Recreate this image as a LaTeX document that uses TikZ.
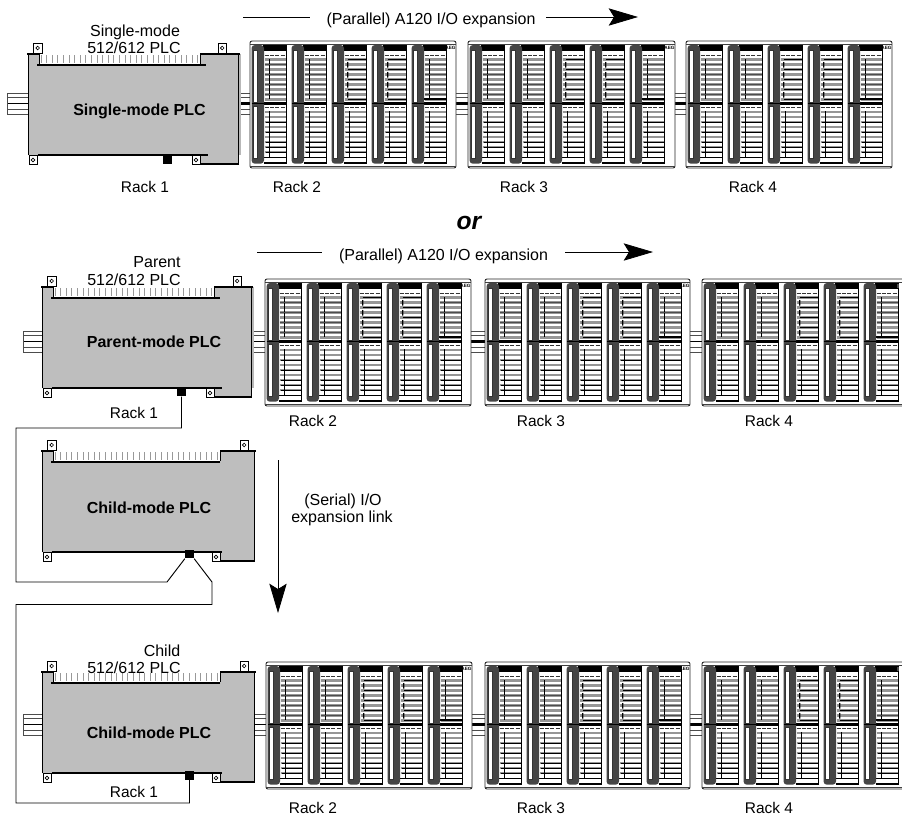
\documentclass[tikz,border=0pt]{standalone}
\usepackage{fontspec}
\setmainfont{Liberation Sans}
\usetikzlibrary{arrows.meta}
\definecolor{plcgray}{HTML}{BEBEBE}
\definecolor{darkcol}{HTML}{454545}
\definecolor{stripe}{HTML}{969696}
\tikzset{
  lbl/.style={anchor=base,inner sep=0pt,font=\fontsize{11.6pt}{13pt}\selectfont},
  lblm/.style={anchor=base,inner sep=0pt,font=\fontsize{12pt}{14pt}\selectfont},
  lblb/.style={anchor=base,inner sep=0pt,font=\fontsize{12pt}{14pt}\selectfont\bfseries},
  flow/.style={anchor=base,inner sep=0pt,font=\fontsize{12pt}{14pt}\selectfont},
  cable/.style={line width=.7pt,black},
  bigarrow/.style={line width=.6pt,-{Stealth[length=22pt,width=13pt,inset=4pt]}},
  plug/.style={fill=black,draw=none,inner sep=0pt,minimum width=6.6pt,minimum height=6.6pt},
  heavy/.style={line width=1.5pt,black},
  thinb/.style={line width=.6pt,black},
  teeth/.style={line width=.55pt,black!40},
  tabbox/.style={draw=black,line width=.55pt,fill=white},
  railg/.style={line width=.7pt,black!70},
}
% #1 left, #2 top, #3 flat start, #4 top right tab, #5 right, #6 shadow width
\newcommand{\plcbody}[6]{%
 \begin{scope}[shift={(#1,#2)}]
  \fill[black!28] (#5,0) rectangle (#5+#6,101);
  \fill[plcgray] (0,0)--(11,0)--(11,10)--(#3,10)--(#3,0)--(#5,0)--(#5,110)--(#3,110)--(#3,101)--(0,101)--cycle;
  \foreach \tx in {13,18.6,...,#3}{\draw[teeth] (\tx,1)--(\tx,9);}
  \draw[thinb] (0,0)--(0,101);
  \draw[thinb] (#5,0)--(#5,110);
  \draw[thinb] (11,0)--(11,10) (#3,0)--(#3,10);
  \draw[thinb] (#3,101)--(#3,110);
  \draw[heavy] (-1,0)--(11.5,0);
  \draw[heavy] (9,10.5)--(178,10.5);
  \draw[heavy] (#3,0)--(#5+2,0);
  \draw[heavy] (10,101)--(180,101);
  \draw[heavy] (#3,110)--(#5+.7,110);
  \draw[tabbox] (5.5,-11) rectangle (14,-1);
  \draw[line width=.5pt] (9.7,-6) circle (1.8);
  \draw[tabbox] (#4,-11) rectangle (#4+8.5,-1);
  \draw[line width=.5pt] (#4+4.2,-6) circle (1.8);
  \draw[tabbox] (1,101.5) rectangle (9,110.5);
  \draw[line width=.5pt] (5,106) circle (1.8);
  \draw[tabbox] (#3-8,101.5) rectangle (#3,110.5);
  \draw[line width=.5pt] (#3-4,106) circle (1.8);
 \end{scope}}
% #1 x1, #2 x2, #3 rail top, #4 mid line width
\newcommand{\railseg}[4]{%
  \fill[white] (#1,#3) rectangle (#2,#3+21);
  \draw[railg] (#1,#3)--(#2,#3) (#1,#3+4)--(#2,#3+4) (#1,#3+21)--(#2,#3+21) (#1,#3+16)--(#2,#3+16);
  \draw[line width=#4,black] (#1,#3+10.5)--(#2,#3+10.5);}
% #1 x, #2 rack top, #3 kind
\newcommand{\modl}[3]{%
 \begin{scope}[shift={(#1,#2)}]
  \foreach \sy in {18.5,23.5,...,59}{\draw[line width=1.6pt,stripe] (13,\sy)--(34.5,\sy);}
  \foreach \sy in {71,76,...,112}{\draw[line width=1.6pt,stripe] (13,\sy)--(34.5,\sy);}
  \ifnum#3=1
    \foreach \sy in {18.5,28.5,38.5,48.5,58.5}{\draw[line width=.7pt] (16,\sy)--(34.5,\sy);}
    \foreach \sy in {21,31,41,51}{\draw[line width=1pt] (16.2,\sy) .. controls (15.2,\sy+2) and (17,\sy+3) .. (16.2,\sy+5.5);}
    \draw[line width=.6pt] (18,70)--(18,116);
  \else
    \draw[line width=.7pt] (17.6,18)--(17.6,58);
    \draw[line width=.7pt] (17.6,70)--(17.6,116);
    \foreach \sy in {23.5,33.5,43.5,53.5}{\draw[line width=.5pt,black!70] (13,\sy)--(34.5,\sy);}
  \fi
  \ifnum#3=2 \draw[line width=1.2pt] (12,58)--(35,58); \fi
  \foreach \sy in {81,91,101,106,111}{\draw[line width=.6pt] (14,\sy)--(34.5,\sy);}
  \fill[black] (11,4) rectangle (35,10);
  \draw[line width=.6pt,dash pattern=on 3pt off 1pt,black!80] (13,14)--(35,14);
  \draw[line width=.6pt,dash pattern=on 3pt off 1pt,black!80] (13,66.5)--(35,66.5);
  \draw[line width=1.8pt] (10,62.5)--(35,62.5);
  \draw[line width=1.3pt] (9,116.5)--(35,116.5);
  \draw[line width=1pt] (12,122)--(35,122);
  \draw[line width=1pt] (35,4)--(35,122.4);
  \fill[darkcol,rounded corners=2.5pt] (0,4) rectangle (12.5,122.7);
  \fill[white] (1.8,9) rectangle (5.8,61);
  \fill[white] (1.8,65) rectangle (5.8,117);
  \draw[line width=.35pt,black!80] (1.8,9) rectangle (5.8,61) (1.8,65) rectangle (5.8,117);
  \draw[line width=.7pt] (0,62.5)--(12,62.5);
 \end{scope}}
% #1 x, #2 top, #3 width, #4 1 = maker mark fits, 0 = only a fragment at the picture's edge
\newcommand{\rackbox}[4]{%
 \begin{scope}[shift={(#1,#2)}]
  \draw[line width=.7pt,black!85,fill=white,rounded corners=1.5pt] (0,0) rectangle (#3,127);
  \draw[line width=.5pt,black!75] (.3,3)--(#3-.3,3);
  \draw[line width=.5pt,black!75] (.3,125)--(#3-.3,125);
  \modl{1.5}{0}{0}
  \modl{41.5}{0}{0}
  \modl{81.5}{0}{1}
  \modl{121.5}{0}{1}
  \modl{161.5}{0}{2}
  \ifnum#4=1
  \node[inner sep=0pt,font=\fontsize{3.5pt}{4pt}\selectfont\bfseries] at (#3-5.5,7) {AEG};
  \else
  \fill[black!70] (195,5) rectangle (197,9);
  \fi
 \end{scope}}
\begin{document}
\begin{tikzpicture}[x=.75pt,y=-.75pt]
\useasboundingbox (0,0) rectangle (902,819);
\fill[white] (0,0) rectangle (902,819);
\begin{scope}
\clip (0,0) rectangle (902,819);
% rails row 1
\railseg{7}{28}{93}{0pt}
\draw[railg] (7,93)--(7,114);
\railseg{241}{250}{93}{1.6pt}
\railseg{456}{468}{93}{2.2pt}
\railseg{675}{686}{93}{2.2pt}
% rails row 2
\railseg{23}{42}{331}{0pt}
\draw[railg] (23,331)--(23,352);
\railseg{254}{265}{331}{0pt}
\railseg{471}{485}{331}{2.2pt}
\railseg{690}{702}{331}{1.4pt}
% rails row 3
\railseg{23}{42}{714}{0pt}
\draw[railg] (23,714)--(23,735);
\railseg{254}{266}{714}{0pt}
\railseg{471}{485}{714}{2.2pt}
\railseg{690}{702}{714}{2.2pt}
% PLCs
\plcbody{28}{54}{172}{190}{210}{3}
\plcbody{42}{287}{172}{191}{209}{3}
\plcbody{42}{451}{178}{198}{212}{0}
\plcbody{42}{672}{178}{198}{212}{0}
% racks
\rackbox{250}{41}{206}{1}
\rackbox{468}{41}{207}{1}
\rackbox{686}{41}{206}{1}
\rackbox{265}{279}{206}{1}
\rackbox{485}{279}{205}{1}
\rackbox{702}{279}{206}{0}
\rackbox{266}{662}{206}{1}
\rackbox{485}{662}{205}{1}
\rackbox{702}{662}{206}{0}
\end{scope}
% connectors
\node[plug] (p0) at (167.5,159.5) {};
\node[plug] (p1) at (181.5,392) {};
\node[plug] (p2) at (189.5,554) {};
\node[plug] (p3) at (189.5,775.5) {};
\coordinate (a1) at (16,428);
\coordinate (a2) at (16,582);
\coordinate (a3) at (167,582);
\coordinate (a4) at (212,582);
\coordinate (a5) at (212,604.5);
\coordinate (a6) at (16,604.5);
\coordinate (a7) at (16,803);
\draw[cable] (p1.south) |- (a1) -- (a2) -- (a3) -- (p2.south west);
\draw[cable] (p2.south east) -- (a4) -- (a5) -- (a6) -- (a7) -| (p3.south);
% arrows
\coordinate (r1a) at (243,17); \coordinate (r1b) at (310,17);
\coordinate (r1c) at (546,17); \coordinate (r1d) at (638,17);
\coordinate (r2a) at (257,252); \coordinate (r2b) at (322,252);
\coordinate (r2c) at (565,252); \coordinate (r2d) at (653,252);
\coordinate (s1) at (278,460); \coordinate (s2) at (278,613);
\draw[line width=.6pt] (r1a) -- (r1b);
\draw[bigarrow] (r1c) -- (r1d);
\draw[line width=.6pt] (r2a) -- (r2b);
\draw[bigarrow] (r2c) -- (r2d);
\draw[bigarrow] (s1) -- (s2);
% labels
\node[flow] (t1) at (431,24) {(Parallel) A120 I/O expansion};
\node[flow] (t2) at (443.5,260) {(Parallel) A120 I/O expansion};
\node[lblm] (t3) at (135,36.7) {Single-mode};
\node[lblm] (t4) at (134,53) {512/612 PLC};
\node[lblb] (t5) at (139.5,115) {Single-mode PLC};
\node[lbl] (t6) at (145,192.7) {Rack 1};
\node[lbl] (t7) at (297,192.7) {Rack 2};
\node[lbl] (t8) at (524,192.7) {Rack 3};
\node[lbl] (t9) at (753,192.7) {Rack 4};
\node[anchor=base,inner sep=0pt,font=\fontsize{18.5pt}{20pt}\selectfont\bfseries\itshape] (t10) at (469,229) {or};
\node[lblm] (t11) at (157,267) {Parent};
\node[lblm] (t12) at (134,285) {512/612 PLC};
\node[lblb] (t13) at (154,347) {Parent-mode PLC};
\node[lbl] (t14) at (134,418) {Rack 1};
\node[lbl] (t15) at (313,426) {Rack 2};
\node[lbl] (t16) at (541,426) {Rack 3};
\node[lbl] (t17) at (769,426) {Rack 4};
\node[lblb] (t18) at (149,513) {Child-mode PLC};
\node[lblm] (t19) at (343,505) {(Serial) I/O};
\node[lblm] (t20) at (342,522.7) {expansion link};
\node[lblm] (t21) at (162,656) {Child};
\node[lblm] (t22) at (134,673) {512/612 PLC};
\node[lblb] (t23) at (149,738) {Child-mode PLC};
\node[lbl] (t24) at (134,797) {Rack 1};
\node[lbl] (t25) at (313,813) {Rack 2};
\node[lbl] (t26) at (541,813) {Rack 3};
\node[lbl] (t27) at (769,813) {Rack 4};
\end{tikzpicture}
\end{document}
